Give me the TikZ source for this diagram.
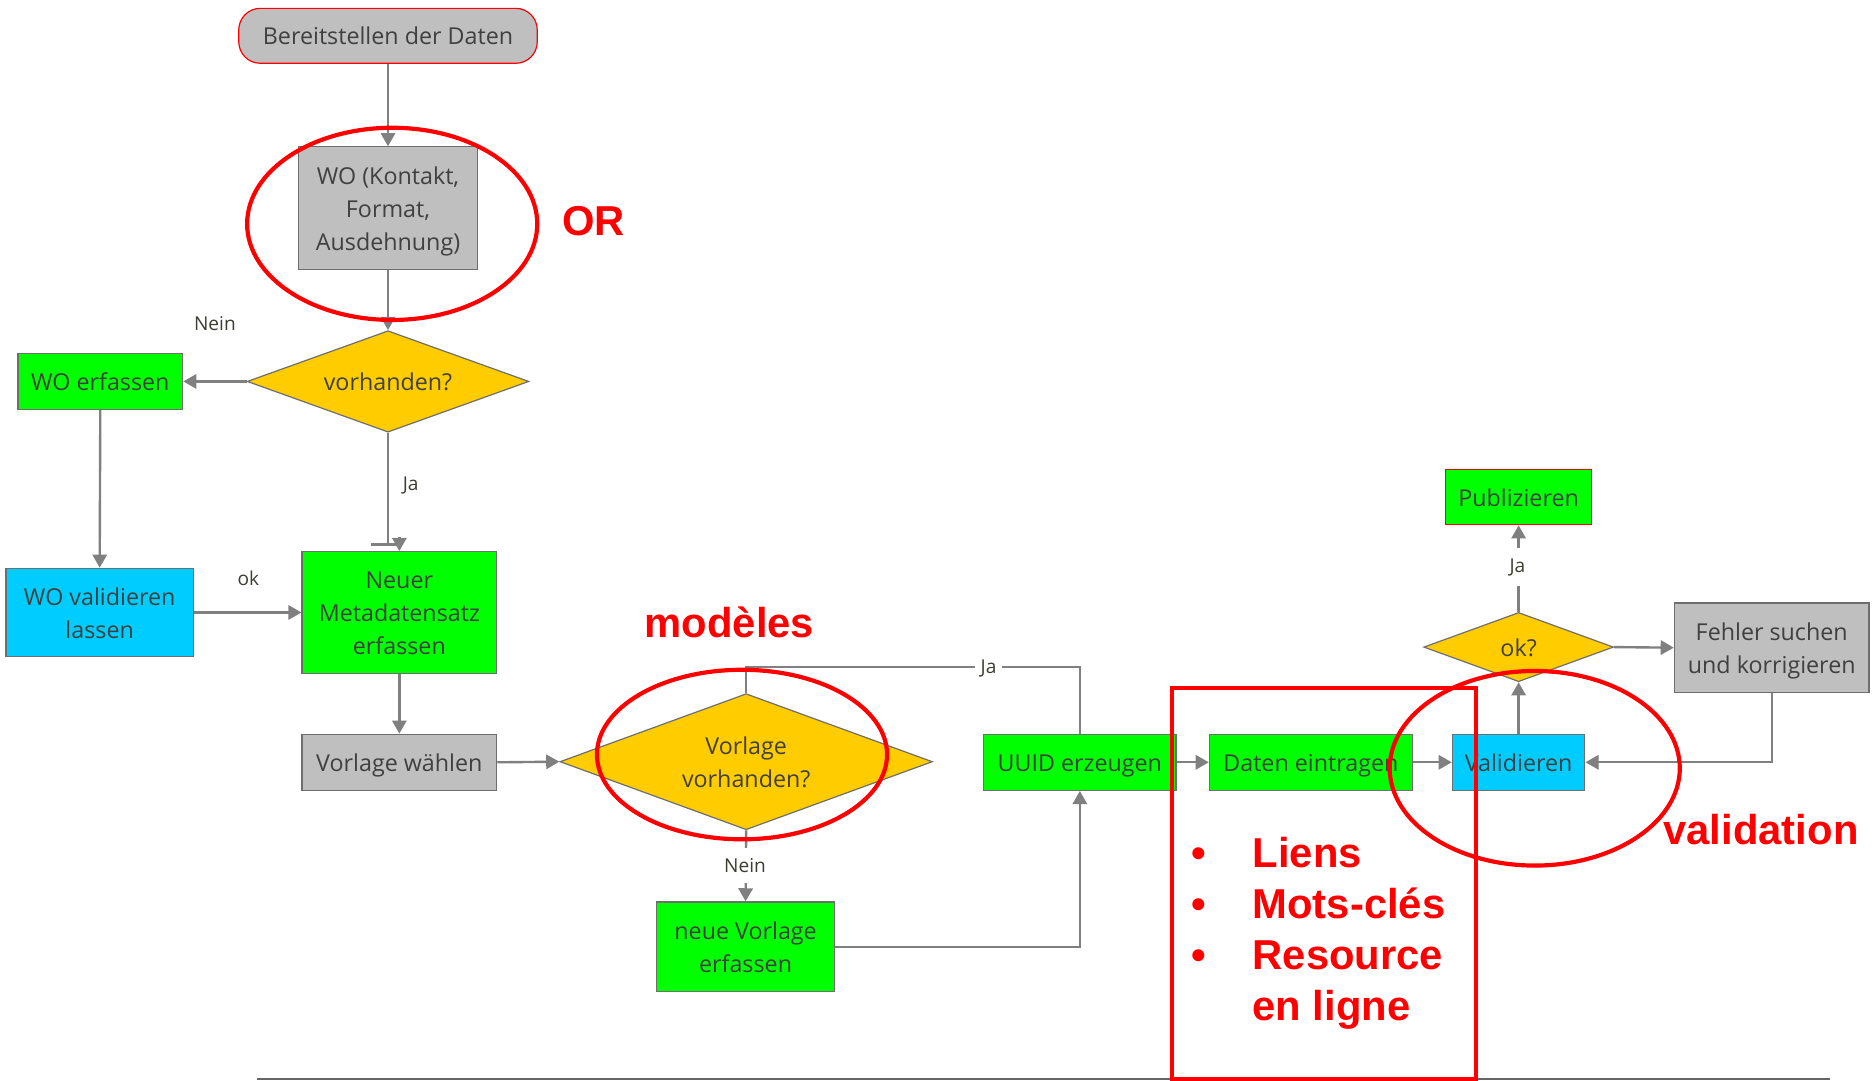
\documentclass[tikz,border=0pt]{standalone}
\usepackage{fontspec}
\setmainfont{Open Sans}
\newfontfamily\annotfont{Liberation Sans}
\usetikzlibrary{shapes.geometric,arrows.meta,calc}

\definecolor{boxgray}{HTML}{BFBFBF}
\definecolor{linegray}{HTML}{808080}
\definecolor{edgegray}{HTML}{6E6E6E}
\definecolor{lime}{HTML}{00FF00}
\definecolor{skyblue}{HTML}{00CCFF}
\definecolor{gold}{HTML}{FFCC00}
\definecolor{txt}{HTML}{404040}
\definecolor{labeltxt}{HTML}{3C3C30}
\definecolor{markred}{HTML}{FF0000}
\definecolor{rulegray}{HTML}{666666}

% fixed line metrics for the text inside the flowchart shapes
\newcommand\lnstrut{\rule[-4.7pt]{0pt}{24.7pt}}

\begin{document}
\begin{tikzpicture}[x=1pt, y=-1pt,
  base/.style={font=\fontsize{19.5}{27.5}\selectfont, text=txt, align=center,
    inner sep=0pt, line width=1pt, draw=edgegray},
  procbox/.style={base, rectangle},
  startbox/.style={base, rectangle, rounded corners=18pt, draw=markred, fill=boxgray},
  decision/.style={base, diamond, fill=gold},
  conn/.style={draw=linegray, line width=2pt},
  arr/.style={conn, -{Triangle[length=11pt,width=12pt]}},
  lbl/.style={font=\fontsize{16}{18}\selectfont, text=labeltxt, inner sep=0pt},
  gaplbl/.style={lbl, fill=white, inner xsep=5pt, inner ysep=9pt},
  redtext/.style={font=\annotfont\bfseries\fontsize{35}{42}\selectfont, text=markred, inner sep=0pt},
  redmark/.style={draw=markred, line width=3.5pt}
]
\useasboundingbox (0,0) rectangle (1568,905);

% process steps
\node[startbox, minimum width=250pt, minimum height=46pt] (bereit) at (325,30) {\lnstrut Bereitstellen der Daten};
\node[procbox, fill=boxgray, minimum width=150pt, minimum height=103pt] (wo) at (325,174.5) {\lnstrut WO (Kontakt,\\\lnstrut Format,\\\lnstrut Ausdehnung)};
\node[decision, aspect=2.78, minimum width=236pt, minimum height=85pt] (vorh) at (325,319.5) {\lnstrut vorhanden?};
\node[procbox, fill=lime, minimum width=138pt, minimum height=47pt] (woerf) at (84,319.5) {\lnstrut WO erfassen};
\node[procbox, fill=skyblue, minimum width=157pt, minimum height=74pt] (woval) at (83.5,513) {\lnstrut WO validieren\\\lnstrut lassen};
\node[procbox, fill=lime, minimum width=163pt, minimum height=102pt] (neuer) at (334.5,513) {\lnstrut Neuer\\\lnstrut Metadatensatz\\\lnstrut erfassen};
\node[procbox, fill=boxgray, minimum width=163pt, minimum height=47pt] (vw) at (334.5,638.5) {\lnstrut Vorlage wählen};
\node[decision, aspect=2.74, minimum width=312pt, minimum height=114pt] (vv) at (625,638) {\lnstrut Vorlage\\\lnstrut vorhanden?};
\node[procbox, fill=lime, minimum width=149pt, minimum height=75pt] (nv) at (624.5,793) {\lnstrut neue Vorlage\\\lnstrut erfassen};
\node[procbox, fill=lime, minimum width=161pt, minimum height=47pt] (uuid) at (904.5,638.5) {\lnstrut UUID erzeugen};
\node[procbox, fill=lime, minimum width=170pt, minimum height=47pt] (daten) at (1098,638.5) {\lnstrut Daten eintragen};
\node[procbox, fill=skyblue, minimum width=111pt, minimum height=47pt] (val) at (1272,638.5) {\lnstrut Validieren};
\node[decision, aspect=2.74, minimum width=159pt, minimum height=58pt] (ok) at (1272,542) {\lnstrut ok?};
\node[procbox, fill=lime, draw=markred, minimum width=122pt, minimum height=46pt] (pub) at (1272,416.5) {\lnstrut Publizieren};
\node[procbox, fill=boxgray, minimum width=163pt, minimum height=75pt] (fehler) at (1484,542.5) {\lnstrut Fehler suchen\\\lnstrut und korrigieren};

% connectors
\coordinate (jog) at (325,456);
\draw[arr] (bereit.south) -- (wo.north);
\draw[arr] (wo.south) -- (vorh.north);
\draw[arr] (vorh.west) -- (woerf.east);
\draw[arr] (woerf.south) -- (woval.north);
\draw[arr] (woval.east) -- (neuer.west);
\draw[conn] (vorh.south) -- (jog);
\draw[conn] ($(jog)+(-14,0)$) -- (neuer.north |- jog);
\draw[arr] ($(neuer.north)+(0,-12)$) -- (neuer.north);
\draw[arr] (neuer.south) -- (vw.north);
\draw[arr] (vw.east) -- (vv.west);
\draw[conn] (vv.north) -- ++(0,-22) -| (uuid.north);
\draw[arr] (vv.south) -- (nv.north);
\draw[arr] (nv.east) -| (uuid.south);
\draw[arr] (uuid.east) -- (daten.west);
\draw[arr] (daten.east) -- (val.west);
\draw[arr] (val.north) -- (ok.south);
\draw[arr] (ok.north) -- (pub.south);
\draw[arr] (ok.east) -- (fehler.west);
\draw[arr] (fehler.south) |- (val.east);

% branch labels
\node[lbl] (nein1) at (180,271) {Nein};
\node[lbl] (ja1) at (344,407) {Ja};
\node[lbl] (okl) at (208,484) {ok};
\node[gaplbl] (ja2) at (828,559.5) {Ja};
\node[gaplbl] (nein2) at (624,725) {Nein};
\node[gaplbl] (ja3) at (1271,475) {Ja};

% bottom rule
\draw[draw=rulegray, line width=1.5pt] (215,904) -- (1533,904);

% red annotations
\draw[redmark] (328.5,187.5) ellipse [x radius=121.5pt, y radius=80.5pt];
\draw[redmark] (621.5,632) ellipse [x radius=121.5pt, y radius=71pt];
\draw[redmark] (1285.5,643.5) ellipse [x radius=121.5pt, y radius=81.5pt];
\draw[redmark] (982,576) rectangle (1236,904);
\node[redtext] (orlbl) at (497,185) {OR};
\node[redtext] (modlbl) at (611,521) {modèles};
\node[redtext] (vallbl) at (1475,695) {validation};
\node[redtext, anchor=base] (b1) at (1004,727) {•};
\node[redtext, anchor=base] (b2) at (1004,769.5) {•};
\node[redtext, anchor=base] (b3) at (1004,812) {•};
\node[redtext, anchor=base west] (t1) at (1049,727) {Liens};
\node[redtext, anchor=base west] (t2) at (1049,769.5) {Mots-clés};
\node[redtext, anchor=base west] (t3) at (1049,812) {Resource};
\node[redtext, anchor=base west] (t4) at (1049,854.5) {en ligne};
\end{tikzpicture}
\end{document}
